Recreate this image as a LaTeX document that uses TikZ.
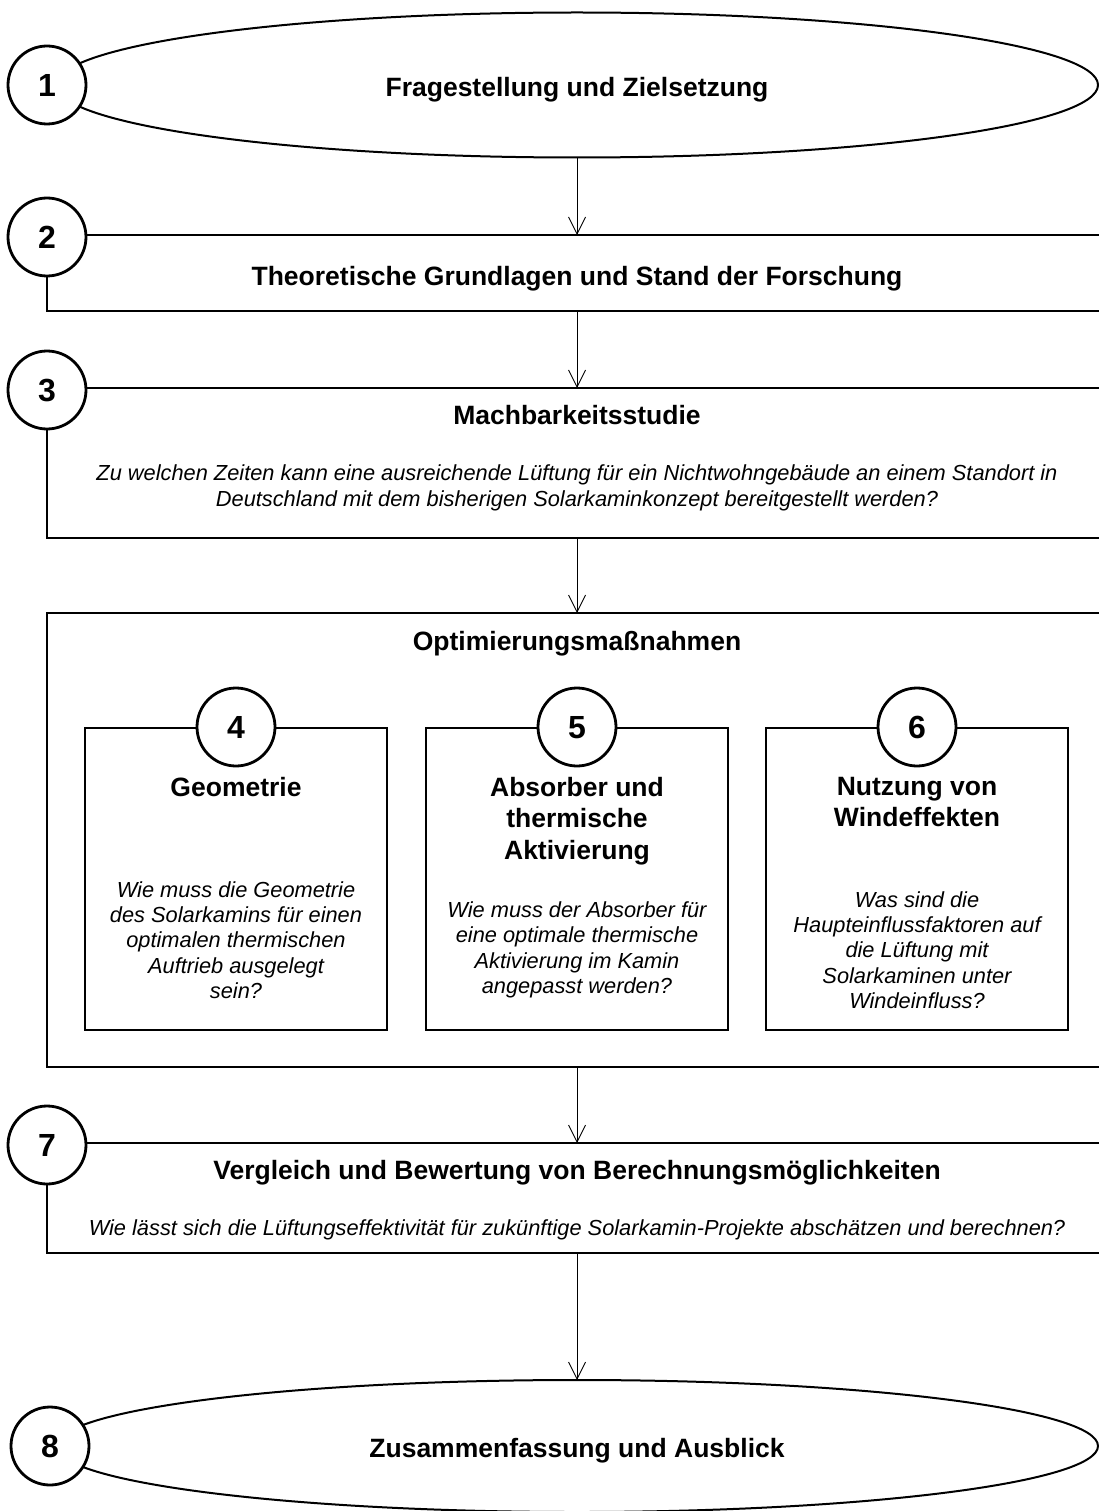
\documentclass[tikz,border=0pt]{standalone}
\usepackage{fontspec}
\setmainfont{Liberation Sans}
\usetikzlibrary{shapes.geometric, arrows.meta}

\newcommand{\ttl}{\bfseries\fontsize{26.5}{31.5}\selectfont}
\newcommand{\qst}{\itshape\fontsize{21.8}{25.3}\selectfont}

\begin{document}
\begin{tikzpicture}[x=1pt, y=-1pt]
\tikzset{ >={Straight Barb[length=17pt, width=17pt]}, inner sep=0pt, outer sep=0pt,
  frame/.style={draw, rectangle, line width=2pt},
  oval/.style={draw, ellipse, line width=2pt, minimum width=1042pt, font=\ttl,
               text height=23pt, text depth=0pt},
  num/.style={draw, circle, fill=white, line width=2.8pt, minimum size=78pt,
              font=\bfseries\fontsize{32}{36}\selectfont, text height=23pt, text depth=0pt},
  flow/.style={->, line width=0.9pt},
}

\useasboundingbox (0,0) rectangle (1098,1511);

%\draw [lightgray, dashed](0,0) grid[step=100] (1098,1511);

% chapter blocks
\node [oval, minimum height=145pt] (E1) at (577,85) {Fragestellung und Zielsetzung};
\node [frame, minimum width=1060pt, minimum height=76pt, font=\ttl,
       text height=25pt, text depth=0pt] (B2) at (577,273)
      {Theoretische Grundlagen und Stand der Forschung};
\node [frame, minimum width=1060pt, minimum height=150pt] (B3) at (577,463) {};
\node [frame, minimum width=1060pt, minimum height=454pt] (B4) at (577,840) {};
\node [frame, minimum width=1060pt, minimum height=110pt] (B7) at (577,1198) {};
\node [oval, minimum height=132pt] (E8) at (577,1446) {Zusammenfassung und Ausblick};

\node [font=\ttl] (T3) at (577,415) {Machbarkeitsstudie};
\node [font=\qst, align=center] (Q3) at (577,488)
      {Zu welchen Zeiten kann eine ausreichende Lüftung für ein Nichtwohngebäude an einem Standort in\\
       Deutschland mit dem bisherigen Solarkaminkonzept bereitgestellt werden?};
\node [font=\ttl] (T4) at (577,644) {Optimierungsmaßnahmen};
\node [font=\ttl] (T7) at (577,1173) {Vergleich und Bewertung von Berechnungsmöglichkeiten};
\node [font=\qst] (Q7) at (577,1230)
      {Wie lässt sich die Lüftungseffektivität für zukünftige Solarkamin-Projekte abschätzen und berechnen?};

% optimisation boxes
\node [frame, minimum size=302pt] (B4a) at (236,879) {};
\node [frame, minimum size=302pt] (B4b) at (577,879) {};
\node [frame, minimum size=302pt] (B4c) at (917,879) {};

\node [font=\ttl, align=center, anchor=north] (T4a) at (236,777) {Geometrie};
\node [font=\ttl, align=center, anchor=north] (T4b) at (577,777) {Absorber und\\thermische\\Aktivierung};
\node [font=\ttl, align=center, anchor=north] (T4c) at (917,777) {Nutzung von\\Windeffekten};

\node [font=\qst, align=center] (Q4a) at (236,940)
      {Wie muss die Geometrie\\des Solarkamins für einen\\optimalen thermischen\\Auftrieb ausgelegt\\sein?};
\node [font=\qst, align=center] (Q4b) at (577,950)
      {Wie muss der Absorber für\\eine optimale thermische\\Aktivierung im Kamin\\angepasst werden?};
\node [font=\qst, align=center] (Q4c) at (917,950)
      {Was sind die\\Haupteinflussfaktoren auf\\die Lüftung mit\\Solarkaminen unter\\Windeinfluss?};

% numbers
\node [num] (N1) at (47,85)   {1};
\node [num] (N2) at (47,237)  {2};
\node [num] (N3) at (47,390)  {3};
\node [num] (N4) at (236,727) {4};
\node [num] (N5) at (577,727) {5};
\node [num] (N6) at (917,727) {6};
\node [num] (N7) at (47,1145) {7};
\node [num] (N8) at (50,1446) {8};

% flow
\draw [flow] (E1.south) -- (B2.north);
\draw [flow] (B2.south) -- (B3.north);
\draw [flow] (B3.south) -- (B4.north);
\draw [flow] (B4.south) -- (B7.north);
\draw [flow] (B7.south) -- (E8.north);
\end{tikzpicture}
\end{document}
